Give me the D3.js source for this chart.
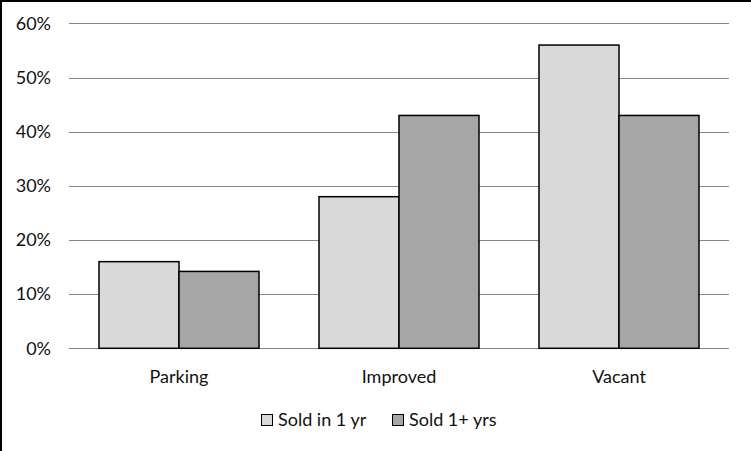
<!DOCTYPE html>
<html><head><meta charset="utf-8">
<script src="https://cdn.jsdelivr.net/npm/d3@7"></script>
<style>body{margin:0;background:#fff}svg{display:block}text{font-family:Lato,"Open Sans",sans-serif;fill:#111}</style>
</head><body>
<script>
const categories = ["Parking", "Improved", "Vacant"];
const seriesNames = ["Sold in 1 yr", "Sold 1+ yrs"];
const soldIn1Yr = [0.16, 0.28, 0.56];
const sold1PlusYrs = [0.142, 0.43, 0.43];
const yTicks = [0, 0.1, 0.2, 0.3, 0.4, 0.5, 0.6];
const colors = ["#d9d9d9", "#a6a6a6"];

const W = 751, H = 451;
const svg = d3.select("body").append("svg").attr("width", W).attr("height", H);
svg.append("rect").attr("width", W).attr("height", H).attr("fill", "#fff");
svg.append("path").attr("d", `M1,${H}V1H${W}`).attr("fill", "none").attr("stroke", "#000").attr("stroke-width", 2);

const x = d3.scaleBand().domain(categories).range([69, 729]).paddingInner(60 / 220).paddingOuter(30 / 220);
const xs = d3.scaleBand().domain(seriesNames).range([0, x.bandwidth()]);
const y = d3.scaleLinear().domain([0, 0.6]).range([348.3, 23.4]);

// gridlines
svg.append("g").selectAll("line").data(yTicks).join("line")
  .attr("x1", 69).attr("x2", 729)
  .attr("y1", d => Math.round(y(d)) + 0.5).attr("y2", d => Math.round(y(d)) + 0.5)
  .attr("stroke", "#868686").attr("stroke-width", 1);

// y labels
svg.append("g").selectAll("text").data(yTicks).join("text")
  .attr("x", 51).attr("y", d => y(d)).attr("dy", "0.35em").attr("text-anchor", "end")
  .attr("font-size", 18).text(d3.format(".0%"));

const data = categories.map((c, i) => ({ c, vals: [soldIn1Yr[i], sold1PlusYrs[i]] }));
const g = svg.append("g").selectAll("g").data(data).join("g")
  .attr("transform", d => `translate(${x(d.c)},0)`);
g.selectAll("rect").data(d => d.vals.map((v, j) => ({ v, s: seriesNames[j], j }))).join("rect")
  .attr("x", d => xs(d.s)).attr("width", xs.bandwidth())
  .attr("y", d => y(d.v)).attr("height", d => y(0) - y(d.v))
  .attr("fill", d => colors[d.j]).attr("stroke", "#000").attr("stroke-width", 1.5);

// x labels
svg.append("g").selectAll("text").data(categories).join("text")
  .attr("x", d => x(d) + x.bandwidth() / 2).attr("y", 383)
  .attr("text-anchor", "middle").attr("font-size", 18).text(d => d);

// legend
const legX = [261, 392];
const leg = svg.append("g").selectAll("g").data(seriesNames).join("g")
  .attr("transform", (d, i) => `translate(${legX[i]},414)`);
leg.append("rect").attr("width", 11).attr("height", 11).attr("x", 0.5).attr("y", 0.5)
  .attr("fill", (d, i) => colors[i]).attr("stroke", "#000").attr("stroke-width", 1);
leg.append("text").attr("x", 17).attr("y", 6).attr("dy", "0.35em").attr("font-size", 18).text(d => d);
</script>
</body></html>
